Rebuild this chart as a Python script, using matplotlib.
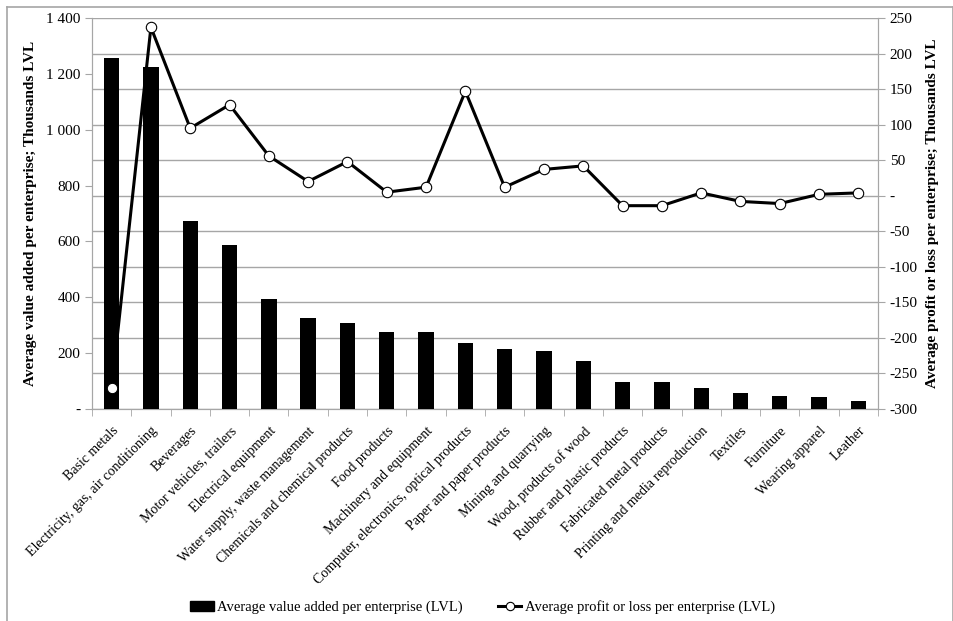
import matplotlib.pyplot as plt
from matplotlib.lines import Line2D
from matplotlib.patches import Patch
from matplotlib.ticker import FuncFormatter
import numpy as np

plt.rcParams['font.family'] = ['Liberation Serif', 'DejaVu Serif']

# ===================== DATA =====================
sectors = [
    "Basic metals", "Electricity, gas, air conditioning", "Beverages",
    "Motor vehicles, trailers", "Electrical equipment",
    "Water supply, waste management", "Chemicals and chemical products",
    "Food products", "Machinery and equipment",
    "Computer, electronics, optical products", "Paper and paper products",
    "Mining and quarrying", "Wood, products of wood",
    "Rubber and plastic products", "Fabricated metal products",
    "Printing and media reproduction", "Textiles", "Furniture",
    "Wearing apparel", "Leather",
]
value_added = [1258, 1225, 674, 588, 393, 327, 307, 277, 277, 235,
               214, 209, 173, 97, 97, 74, 58, 47, 44, 28]
profit_loss = [-271, 237, 95, 128, 56, 20, 48, 5, 12, 147,
               12, 37, 42, -14, -14, 4, -8, -11, 2, 4]

left_ticks = [0, 200, 400, 600, 800, 1000, 1200, 1400]
right_ticks = list(range(-300, 251, 50))

grey = '#a6a6a6'


def fmt_thousands(v, pos=None):
    if v == 0:
        return "-"
    return f"{int(v):,}".replace(",", " ")


# ===================== FIGURE =====================
fig = plt.figure(figsize=(9.54, 6.21), dpi=100)
ax = fig.add_axes([0.0964, 0.3414, 0.824, 0.6296])
ax2 = ax.twinx()

# ax2 (right scale) sits behind and carries the gridlines
ax.set_zorder(3)
ax2.set_zorder(2)
ax.patch.set_visible(False)

x = np.arange(len(sectors))

ax2.set_ylim(-300, 250)
ax2.set_yticks(right_ticks)
ax2.yaxis.set_major_formatter(FuncFormatter(fmt_thousands))
for t in right_ticks:
    ax2.axhline(t, color=grey, linewidth=1.0, zorder=0)

ax.bar(x, value_added, width=0.39, color='black', zorder=3)
ax.set_ylim(0, 1400)
ax.set_yticks(left_ticks)
ax.yaxis.set_major_formatter(FuncFormatter(fmt_thousands))
ax.set_xlim(-0.5, len(sectors) - 0.5)

# profit line drawn on ax (front) in right-axis coordinates
ax.plot(x, profit_loss, transform=ax2.transData, color='black',
        linewidth=2.2, marker='o', markersize=7.5, markerfacecolor='white',
        markeredgecolor='black', markeredgewidth=0.8, zorder=5)

ax.set_xticks(x)
ax.set_xticks(np.arange(len(sectors) + 1) - 0.5, minor=True)
ax.set_xticklabels(sectors, rotation=45, ha='right', rotation_mode='anchor',
                   fontsize=10)
ax.tick_params(axis='x', which='major', length=0, pad=11)
ax.tick_params(axis='x', which='minor', length=5, color=grey)
ax.tick_params(axis='y', length=5, color=grey, labelsize=11)
ax2.tick_params(axis='y', length=5, color=grey, labelsize=11)

for a in (ax, ax2):
    for s in a.spines.values():
        s.set_color(grey)
    a.spines['top'].set_visible(False)

ax.set_ylabel("Average value added per enterprise; Thousands LVL",
              fontsize=11, fontweight='bold', labelpad=6)
ax2.set_ylabel("Average profit or loss per enterprise; Thousands LVL",
               fontsize=11, fontweight='bold', labelpad=6)

# ===================== LEGEND =====================
handles = [
    Patch(facecolor='black', edgecolor='black'),
    Line2D([0], [0], color='black', linewidth=2.2, marker='o',
           markersize=6, markerfacecolor='white', markeredgewidth=0.8),
]
labels = ["Average value added per enterprise (LVL)",
          "Average profit or loss per enterprise (LVL)"]
fig.legend(handles, labels, loc='center', bbox_to_anchor=(0.506, 0.022),
           ncol=2, frameon=False, fontsize=10.5, handlelength=1.6,
           handletextpad=0.25, columnspacing=2.4)

# outer border
bx0, bx1, by = 7 / 954, 953 / 954, 1 - 7 / 621
for xs, ys in [([bx0, bx0], [0, by]), ([bx0, bx1], [by, by]),
               ([bx1, bx1], [0, by])]:
    fig.add_artist(Line2D(xs, ys, color=grey, linewidth=1.2))

fig.savefig("out.png", dpi=100)
